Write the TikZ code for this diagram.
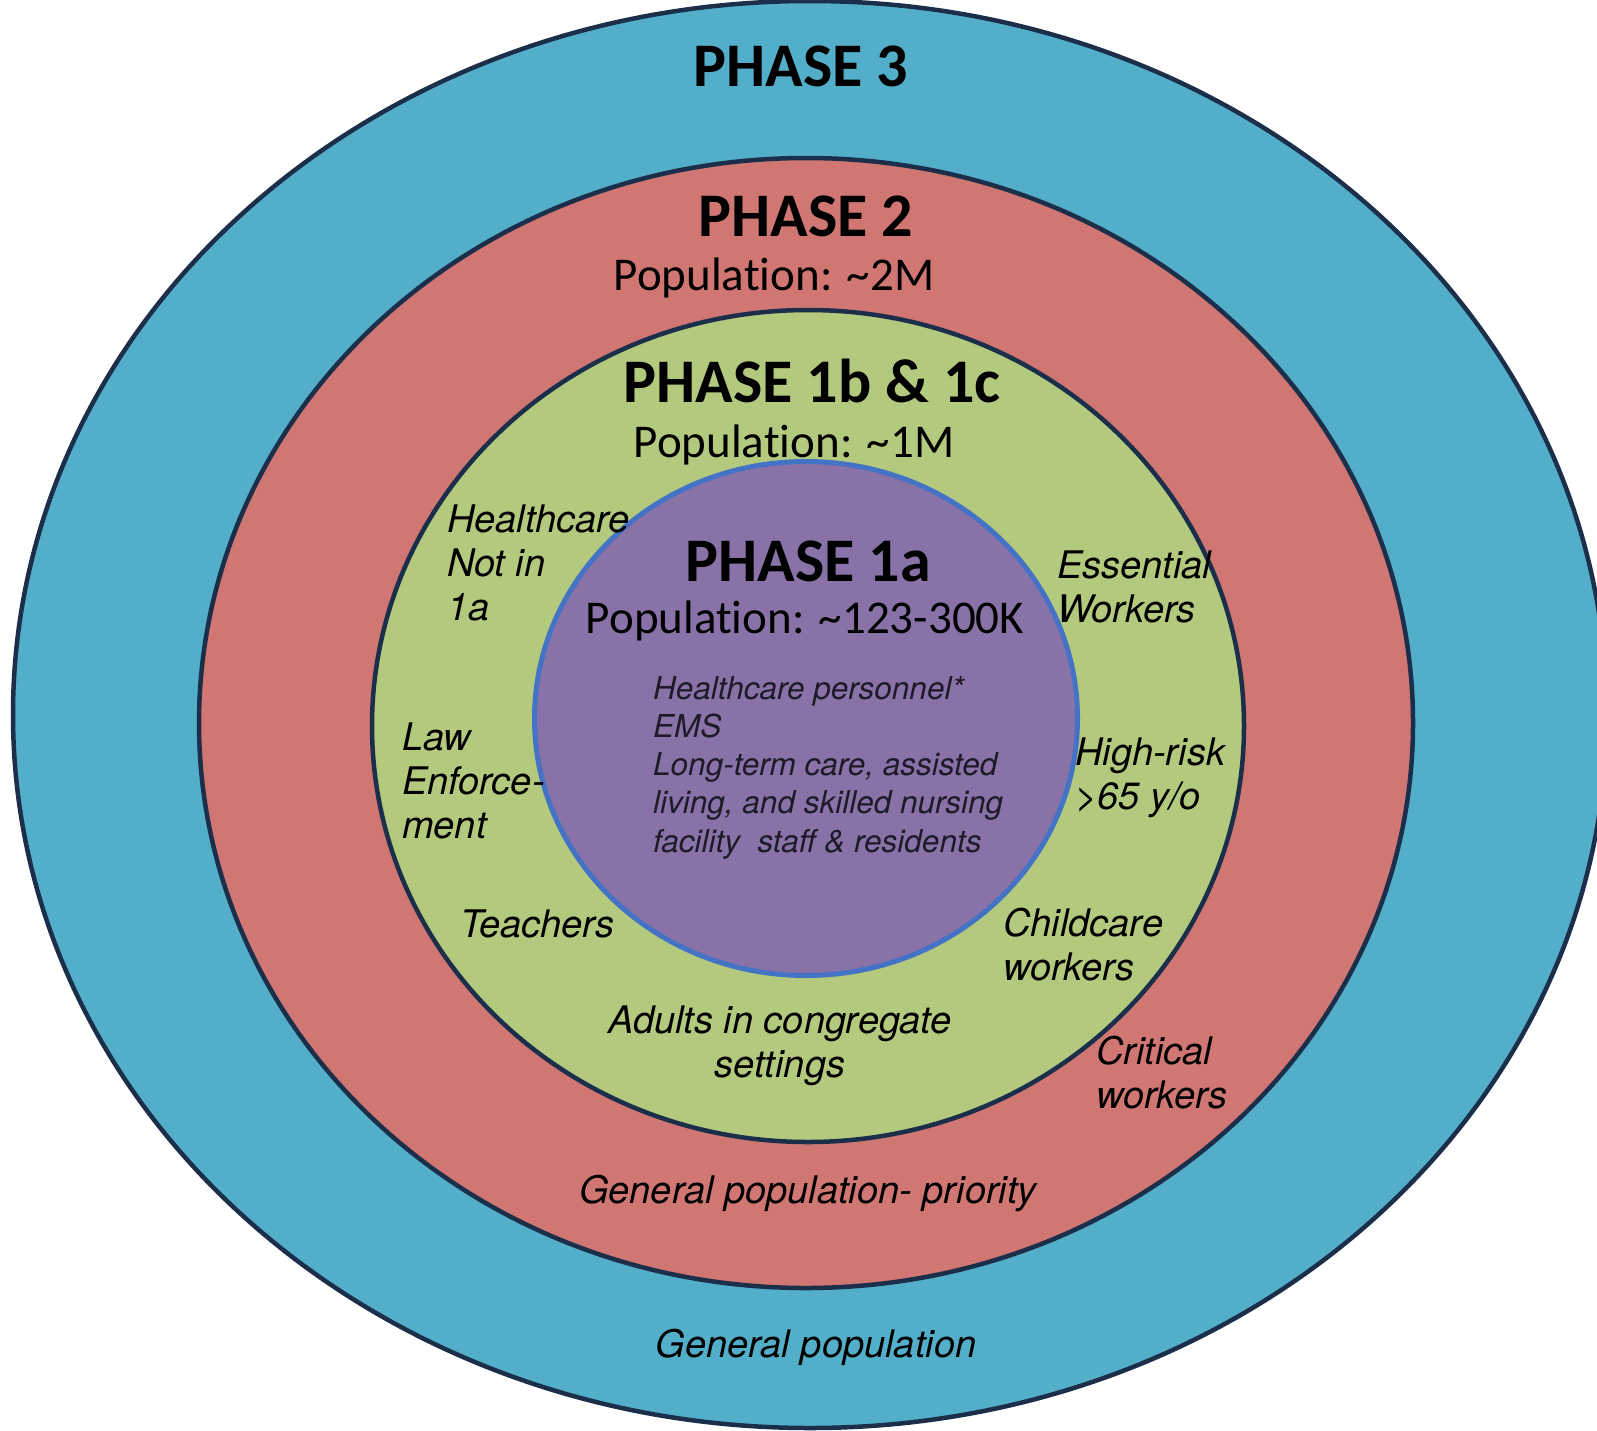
\documentclass[tikz,border=0pt]{standalone}
\usepackage{fontspec}
\setmainfont{Carlito}[Ligatures=NoCommon]
\newfontfamily\groupfont{TeX Gyre Heros}
\definecolor{ringline}{RGB}{27,47,75}
\definecolor{ringblue}{RGB}{68,114,196}
\definecolor{phasethree}{RGB}{83,175,201}
\definecolor{phasetwo}{RGB}{208,118,115}
\definecolor{phaseonebc}{RGB}{179,201,126}
\definecolor{phaseonea}{RGB}{136,114,168}
\definecolor{listtext}{RGB}{30,26,40}
\begin{document}
\begin{tikzpicture}[x=1pt, y=-1pt,
    ring/.style={draw=ringline, line width=4.5pt},
    title/.style={font=\fontsize{62}{70}\selectfont\bfseries, anchor=base, inner sep=0pt},
    pop/.style={font=\fontsize{47}{54}\selectfont, anchor=base, inner sep=0pt},
    group/.style={font=\groupfont\itshape\fontsize{38}{44}\selectfont, align=left, anchor=base west, inner sep=0pt},
    members/.style={font=\groupfont\itshape\fontsize{31.5}{38.25}\selectfont, text=listtext, align=left, anchor=base west, inner sep=0pt}]
    \useasboundingbox (0,0) rectangle (1597,1430);
    \clip (0,0) rectangle (1597,1430);
    % rings, outside in
    \draw[ring, fill=phasethree] (810,714.5) ellipse [x radius=797, y radius=713.5];
    \draw[ring, fill=phasetwo] (806,723) ellipse [x radius=607, y radius=565];
    \draw[ring, fill=phaseonebc] (808,726) ellipse [x radius=436, y radius=416];
    \draw[draw=ringblue, line width=5pt, fill=phaseonea] (806,718.5) ellipse [x radius=271.5, y radius=257];
    % headings
    \node[title] (ph3) at (801,86) {PHASE 3};
    \node[title] (ph2) at (806,236) {PHASE 2};
    \node[pop] (pop2) at (774,290) {Population: \textasciitilde2M};
    \node[title] (ph1bc) at (812,402) {PHASE 1b \& 1c};
    \node[pop] (pop1bc) at (794,457) {Population: \textasciitilde1M};
    \node[title] (ph1a) at (808,581) {PHASE 1a};
    \node[pop] (pop1a) at (805,633) {Population: \textasciitilde123-300K};
    % multi-line nodes sit on their last line
    \node[members] (list1a) at (653,852) {Healthcare personnel*\\EMS\\Long-term care, assisted\\living, and skilled nursing\\facility\ \ staff \& residents};
    % groups of 1b and 1c
    \node[group] (hcnot) at (447,620) {Healthcare\\Not in\\1a};
    \node[group] (law) at (402,838) {Law\\Enforce-\\ment};
    \node[group] (essential) at (1057,622) {Essential\\Workers};
    \node[group] (highrisk) at (1075,809) {High-risk\\>65 y/o};
    \node[group] (teachers) at (460,937) {Teachers};
    \node[group] (childcare) at (1003,980) {Childcare\\workers};
    \node[group, align=center, anchor=base] (adults) at (780,1077) {Adults in congregate\\settings};
    % phase 2 and 3 groups
    \node[group] (critical) at (1096,1108) {Critical\\workers};
    \node[group, anchor=base] (genprio) at (808,1203) {General population- priority};
    \node[group, anchor=base] (genpop) at (816,1357) {General population};
\end{tikzpicture}
\end{document}
